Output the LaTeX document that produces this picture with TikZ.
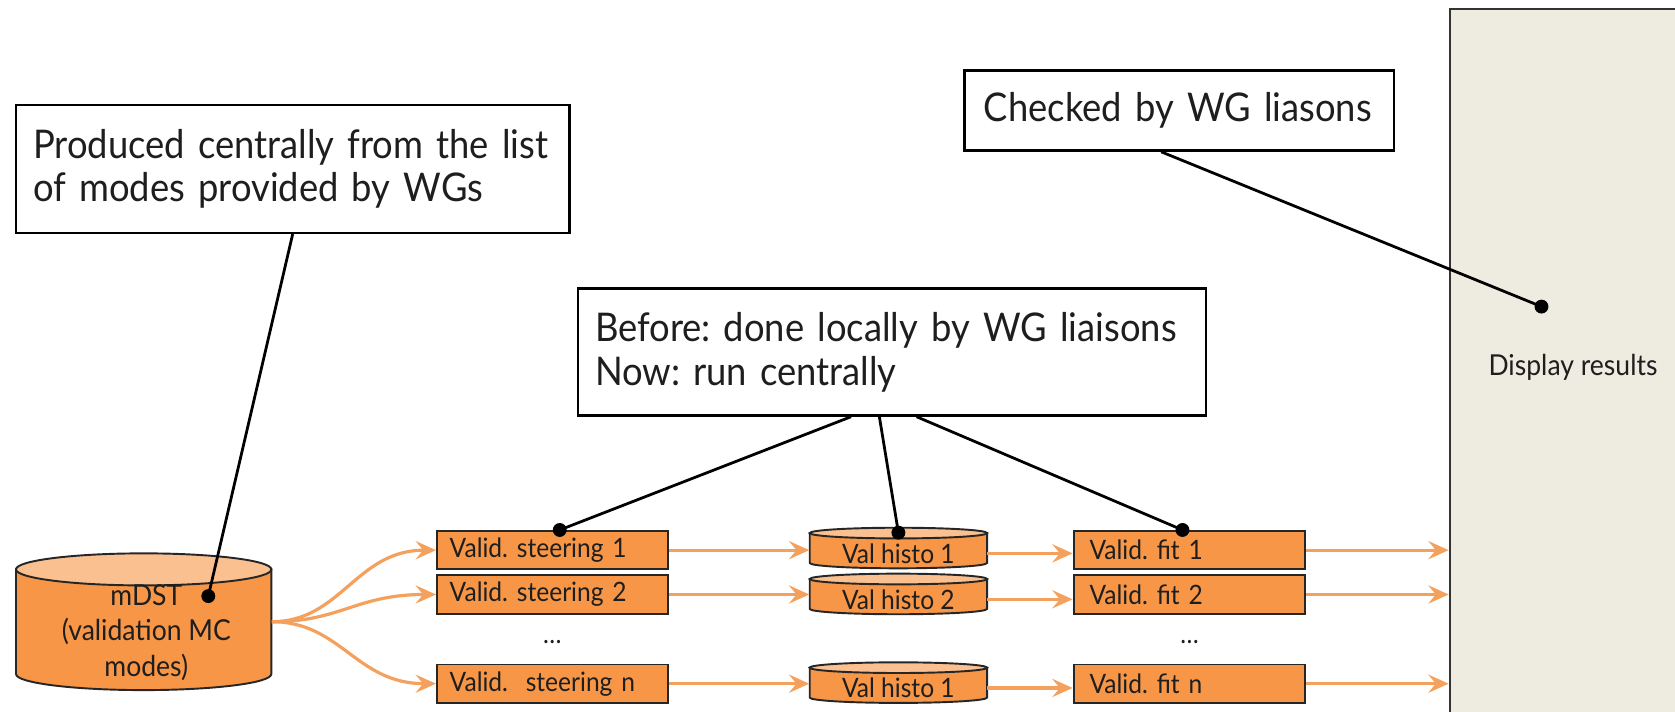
\documentclass[tikz,border=0pt]{standalone}
\usepackage{fontspec}
\setmainfont{Lato}
\newfontfamily\diagfont[FakeStretch=0.92]{Lato}
\usetikzlibrary{arrows.meta,calc}
\frenchspacing

\definecolor{orfill}{HTML}{F79646}
\definecolor{ortop}{HTML}{FAC090}
\definecolor{orarrow}{HTML}{F5A15E}
\definecolor{panelbg}{HTML}{EEECE1}
\definecolor{ink}{HTML}{1E1E1E}

\newcommand\bigtext{\diagfont\fontsize{18.5}{20.5}\selectfont}
\newcommand\boxtext{\diagfont\fontsize{12.5}{15}\selectfont}
\newcommand\midtext{\diagfont\fontsize{13.5}{16.5}\selectfont}

% drum: #1 name, #2 left, #3 right, #4 top, #5 bottom, #6 end radius, #7 node options, #8 text
\newcommand\drum[8]{%
  \pgfmathsetmacro\dcx{(#2+#3)/2}%
  \pgfmathsetmacro\drx{(#3-#2)/2}%
  \draw[drumline, fill=orfill] (#2,#4+#6) -- (#2,#5-#6)
    arc[start angle=180, end angle=0, x radius=\drx, y radius=#6]
    -- (#3,#4+#6) -- cycle;
  \draw[drumline, fill=ortop] (\dcx,#4+#6) ellipse[x radius=\drx, y radius=#6];
  \node[inner sep=0pt, minimum width={(#3-#2)*0.5pt}, minimum height={(#5-#4)*0.5pt},
        text=ink, font=\boxtext, #7] (#1) at (\dcx,{(#4+#5)/2}) {#8};
}

\tikzset{
  note/.style={draw=black, line width=1.1pt, fill=white, align=left, text=ink,
    font=\bigtext, inner xsep=8pt},
  stepbox/.style={draw=black!85, line width=0.9pt, fill=orfill, text=ink,
    font=\boxtext, minimum height=18pt, inner ysep=0pt, align=left},
  drumline/.style={draw=black!85, line width=0.9pt},
  flow/.style={draw=orarrow, line width=1.5pt,
    -{Stealth[length=9.5pt, width=8.5pt, inset=3.5pt]}},
  lead/.style={draw=black, line width=1.3pt},
  leaddot/.style={circle, fill=black, inner sep=0pt, minimum size=6.5pt}
}

\begin{document}
\begin{tikzpicture}[x=0.5pt, y=-0.5pt]
\useasboundingbox (0,0) rectangle (1568,666);

% display panel on the right
\node[draw=black!80, line width=0.9pt, fill=panelbg, minimum width=111.5pt,
      minimum height=336pt, inner sep=0pt, text=ink, font=\midtext]
  (panel) at (1468.5,344) {\hspace*{4pt}Display results};

% annotation boxes
\node[note, text width=243pt, minimum height=60pt] (boxa) at (274,158)
  {\mbox{Produced centrally from the list}\\\mbox{of modes provided by WGs}};
\node[note, text width=183pt, minimum height=37.5pt, inner xsep=9pt] (boxb) at (1104,103.5)
  {\mbox{Checked by WG liasons}};
\node[note, text width=278pt, minimum height=59.5pt] (boxc) at (835,329.5)
  {\mbox{Before: done locally by WG liaisons}\\\mbox{Now: run centrally}};

% input sample
\drum{mdst}{15}{254}{518}{646}{15}{}{}
\node[align=center, text=ink, font=\midtext] (mdsttext) at (137,592)
  {mDST\\(validation MC\\modes)};

% steering boxes
\node[stepbox, text width=96pt, inner xsep=6pt] (st1) at (517,515) {\mbox{Valid. steering 1}};
\node[stepbox, text width=96pt, inner xsep=6pt] (st2) at (517,556.5) {\mbox{Valid. steering 2}};
\node[stepbox, text width=96pt, inner xsep=6pt] (stn) at (517,640) {\mbox{Valid.~~steering n}};
\node[text=ink, font=\boxtext] (sdots) at (517,601) {\ldots};

% histogram files
\drum{hi1}{758}{924}{494}{532}{5}{yshift=-2.5pt}{Val histo 1}
\drum{hi2}{758}{924}{537}{575}{5}{yshift=-2.5pt}{Val histo 2}
\drum{hin}{758}{924}{620}{658}{5}{yshift=-2.5pt}{Val histo 1}

% fit boxes
\node[stepbox, text width=93.5pt, inner xsep=7.5pt] (ft1) at (1113.5,515) {Valid. fit 1};
\node[stepbox, text width=93.5pt, inner xsep=7.5pt] (ft2) at (1113.5,556.5) {Valid. fit 2};
\node[stepbox, text width=93.5pt, inner xsep=7.5pt] (ftn) at (1113.5,640) {Valid. fit n};
\node[text=ink, font=\boxtext] (fdots) at (1113.5,601) {\ldots};

% flow arrows
\draw[flow] (mdst.east) .. controls +(65,0) and +(-75,0) .. (st1.west);
\draw[flow] (mdst.east) .. controls +(65,0) and +(-75,0) .. (st2.west);
\draw[flow] (mdst.east) .. controls +(65,0) and +(-75,0) .. (stn.west);
\foreach \a/\b in {st1/hi1, st2/hi2, stn/hin, hi1/ft1, hi2/ft2, hin/ftn}
  \draw[flow] (\a.east) -- (\a.east -| \b.west);
\foreach \a in {ft1, ft2, ftn}
  \draw[flow] (\a.east) -- (\a.east -| panel.west);

% leader lines with end dots
\coordinate (mdot) at (195,558);
\coordinate (pdot) at (1443,287);
\draw[lead] (boxa.south) -- (mdot);
\node[leaddot] at (mdot) {};
\draw[lead] ($(boxb.south west)!0.458!(boxb.south east)$) -- (pdot);
\node[leaddot] at (pdot) {};

\coordinate (d1) at ($(st1.north west)!0.532!(st1.north east)$);
\coordinate (d2) at ($(hi1.north west)!0.5!(hi1.north east)$);
\coordinate (d3) at ($(ft1.north west)!0.47!(ft1.north east)$);
\draw[lead] ($(boxc.south west)!0.435!(boxc.south east)$) -- (d1);
\draw[lead] ($(boxc.south west)!0.48!(boxc.south east)$) -- (d2);
\draw[lead] ($(boxc.south west)!0.539!(boxc.south east)$) -- (d3);
\foreach \d in {d1,d2,d3} \node[leaddot] at (\d) {};
\end{tikzpicture}
\end{document}
